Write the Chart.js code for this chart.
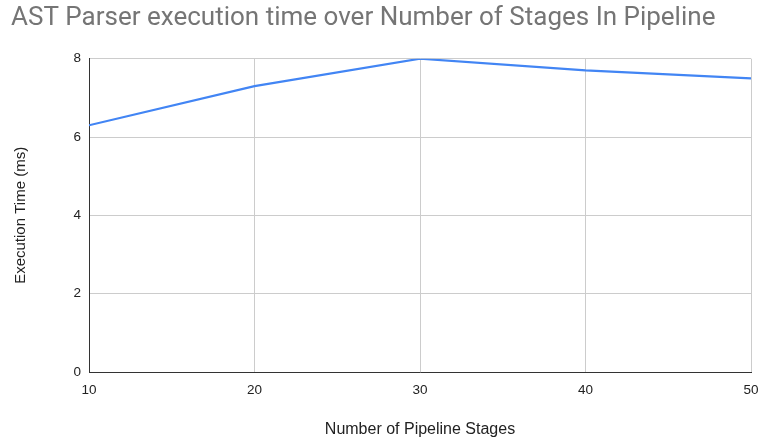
<!DOCTYPE html>
<html>
<head>
<meta charset="utf-8">
<script src="https://cdn.jsdelivr.net/npm/chart.js@4"></script>
<style>
  html, body { margin: 0; padding: 0; background: #fff; }
  #wrap { width: 761px; height: 442px; }
</style>
</head>
<body>
<div id="wrap"><canvas id="chart" width="761" height="442"></canvas></div>
<script>
// data
const stages = [10, 20, 30, 40, 50];
const execTimes = [6.3, 7.3, 8.0, 7.7, 7.5];
const yTicks = [0, 2, 4, 6, 8];

const labelFont = "'Liberation Sans', Arial, sans-serif";

const ctx = document.getElementById("chart").getContext("2d");
new Chart(ctx, {
  type: "line",
  data: {
    datasets: [{
      label: "Execution Time (ms)",
      data: stages.map((s, i) => ({ x: s, y: execTimes[i] })),
      borderColor: "#4285F4",
      borderWidth: 2.2,
      pointRadius: 0,
      tension: 0,
      fill: false
    }]
  },
  options: {
    responsive: false,
    animation: false,
    layout: { padding: { left: 11, right: 10, top: 0, bottom: 0 } },
    plugins: {
      legend: { display: false },
      tooltip: { enabled: false },
      title: {
        display: true,
        text: "AST Parser execution time over Number of Stages In Pipeline",
        align: "start",
        color: "#757575",
        font: { family: "Roboto", size: 26, weight: "normal" },
        padding: { top: 3, bottom: 24.5 }
      }
    },
    scales: {
      x: {
        type: "linear",
        min: stages[0],
        max: stages[stages.length - 1],
        afterBuildTicks: (axis) => { axis.ticks = stages.map(v => ({ value: v })); },
        grid: { color: "#cccccc", drawTicks: false },
        border: { color: "#333333", width: 1 },
        ticks: { color: "#222", padding: 10, font: { family: labelFont, size: 13.5 } },
        title: {
          display: true,
          text: "Number of Pipeline Stages",
          color: "#222",
          font: { family: labelFont, size: 16 },
          padding: { top: 0, bottom: 3 }
        },
        afterFit: (axis) => {
          axis.height = 70;
          axis.paddingLeft = 0;
          axis.paddingRight = 0;
        }
      },
      y: {
        min: 0,
        max: 8,
        afterBuildTicks: (axis) => { axis.ticks = yTicks.map(v => ({ value: v })); },
        grid: { color: "#cccccc", drawTicks: false },
        border: { color: "#333333", width: 1 },
        ticks: { color: "#222", padding: 8, font: { family: labelFont, size: 13.5 } },
        title: {
          display: true,
          text: "Execution Time (ms)",
          color: "#222",
          font: { family: labelFont, size: 15 },
          padding: { top: 1, bottom: 0 }
        },
        afterFit: (axis) => { axis.width = 78; }
      }
    }
  }
});
</script>
</body>
</html>
